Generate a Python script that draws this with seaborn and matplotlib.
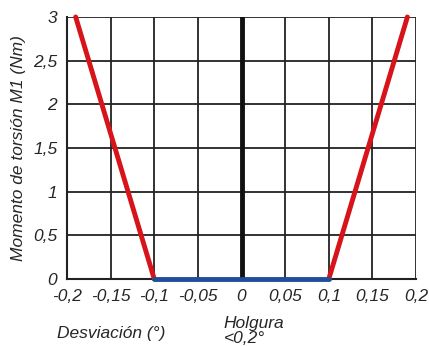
import matplotlib
matplotlib.use("Agg")
import matplotlib.pyplot as plt
import seaborn as sns
import pandas as pd

# Data
torque_left_x = [-0.19, -0.1]
torque_left_y = [3.0, 0.0]
torque_right_x = [0.1, 0.19]
torque_right_y = [0.0, 3.0]
play_x = [-0.1, 0.1]
play_y = [0.0, 0.0]
x_ticks = [-0.2, -0.15, -0.1, -0.05, 0, 0.05, 0.1, 0.15, 0.2]
x_tick_labels = ["-0,2", "-0,15", "-0,1", "-0,05", "0", "0,05", "0,1", "0,15", "0,2"]
y_ticks = [0, 0.5, 1, 1.5, 2, 2.5, 3]
y_tick_labels = ["0", "0,5", "1", "1,5", "2", "2,5", "3"]

sns.set_style("white")
plt.rcParams['font.family'] = ['Liberation Sans', 'DejaVu Sans']
plt.rcParams['font.style'] = 'italic'

fig = plt.figure(figsize=(4.29, 3.46), dpi=100)
ax = fig.add_axes([0.156, 0.194, 0.814, 0.757])

ax.set_xlim(-0.2, 0.2)
ax.set_ylim(0, 3)
ax.set_xticks(x_ticks)
ax.set_xticklabels(x_tick_labels)
ax.set_yticks(y_ticks)
ax.set_yticklabels(y_tick_labels)
ax.grid(True, color="#222222", linewidth=1.3)
ax.set_axisbelow(True)
for s in ax.spines.values():
    s.set_visible(False)
ax.spines['left'].set_visible(True)
ax.spines['bottom'].set_visible(True)
ax.spines['left'].set_color("#222222")
ax.spines['bottom'].set_color("#222222")
ax.spines['left'].set_linewidth(1.5)
ax.spines['bottom'].set_linewidth(1.5)
ax.tick_params(axis='both', labelsize=12.5, length=5, width=1.3, color="#222222", direction='out', pad=2)
for lbl in ax.get_xticklabels() + ax.get_yticklabels():
    lbl.set_fontstyle('italic')

ax.axvline(0, color="#111111", linewidth=3.5, zorder=2)

sns.lineplot(x=torque_left_x, y=torque_left_y, ax=ax, color="#d7141a", linewidth=3.5, zorder=3, clip_on=False)
sns.lineplot(x=torque_right_x, y=torque_right_y, ax=ax, color="#d7141a", linewidth=3.5, zorder=3, clip_on=False)
sns.lineplot(x=play_x, y=play_y, ax=ax, color="#1f4e9a", linewidth=3.5, zorder=4, clip_on=False)

ax.set_ylabel("Momento de torsión M1 (Nm)", fontsize=12.5, fontstyle='italic', labelpad=5)
fig.text(0.133, 0.035, "Desviación (°)", fontsize=12.5, fontstyle='italic', ha='left', va='center')
fig.text(0.522, 0.088, "Holgura\n<0,2°", fontsize=12.5, fontstyle='italic', ha='left', va='top', linespacing=1.0)

fig.savefig("out.png", dpi=100)
